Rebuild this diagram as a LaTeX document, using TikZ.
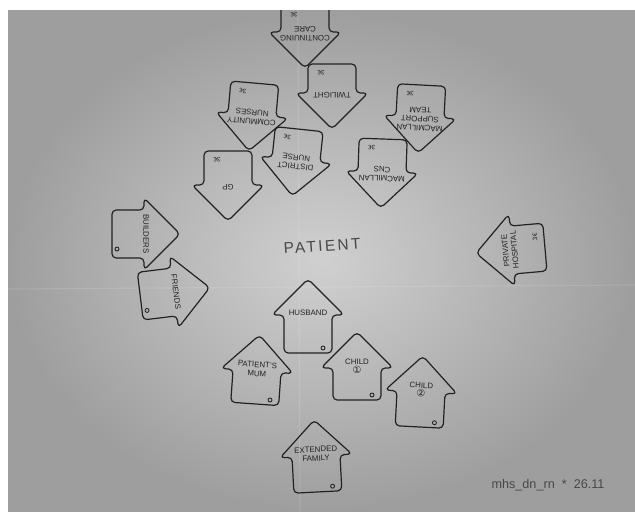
\documentclass[tikz,border=0pt]{standalone}
\usepackage{fontspec}
\setmainfont{Liberation Sans}
\newfontfamily\symfont{DejaVu Sans}
\usepackage{tikz}
\usetikzlibrary{calc}

\definecolor{paperlight}{RGB}{208, 208, 208}
\definecolor{paperdark}{RGB}{158, 158, 158}
\definecolor{pen}{RGB}{34, 34, 34}
\definecolor{pencil}{RGB}{72, 72, 72}

\tikzstyle{cardline} = [draw=pen, line width=0.85pt, rounded corners=3pt, line join=round]
\tikzstyle{cardlabel} = [font=\fontsize{5.6}{6.4}\selectfont, text=pen, align=center, inner sep=0pt, transform shape]
\tikzstyle{cardmark} = [font=\fontsize{4.5}{5}\selectfont, text=pen, inner sep=0pt, transform shape]
\tikzstyle{hole} = [draw=pen, line width=0.6pt]
\tikzstyle{crease} = [white, opacity=0.12, line width=0.8pt]

\newcommand{\cardbody}{34}
\newcommand{\cardoutline}{%
  \draw[cardline] (-24,\cardbody) -- (-24,0) -- (-36,0) -- (0,-36) -- (36,0) -- (24,0) -- (24,\cardbody) -- cycle;}
\tikzset{
  cardbody/.store in=\cardbody,
  pics/holecard/.style={code={
    \cardoutline
    \node[cardlabel] (-label) at (0,-2) {#1};
    \draw[hole] (15,\cardbody-5) circle (2);
  }},
  pics/markcard/.style={code={
    \cardoutline
    \node[cardlabel] (-label) at (0,-2) {#1};
    \node[cardmark] (-mark) at (11,\cardbody-9) {3€};
  }},
}

\begin{document}
\begin{tikzpicture}[x=0.25mm, y=-0.25mm]
  \useasboundingbox (0,0) rectangle (635,511);
  \fill[white] (0,0) rectangle (635,511);
  \shade[inner color=paperlight, outer color=paperdark] (8,10) rectangle (635,511);
  \draw[crease] (298,10) -- (300,511);
  \draw[crease] (8,289) -- (635,285);

  \begin{scope}
    \clip (8,10) rectangle (635,511);
    \pic[cardbody=26, rotate=180] (contcare) at (305,32) {markcard={CONTINUING\\CARE}};
    \pic[cardbody=29, rotate=180] (twilight) at (332,93) {markcard=TWILIGHT};
    \pic[cardbody=32, rotate=175] (community) at (252,115) {markcard={COMMUNITY\\NURSES}};
    \pic[cardbody=31, rotate=174] (district) at (296,160) {markcard={DISTRICT\\NURSE}};
    \pic[cardbody=34, rotate=180] (gp) at (228,185) {markcard=GP};
    \pic[cardbody=32, rotate=177] (support) at (420,117) {markcard={MACMILLAN\\SUPPORT\\TEAM}};
    \pic[cardbody=33, rotate=178] (cns) at (382,172) {markcard={MACMILLAN\\CNS}};
    \pic[cardbody=33, rotate=95] (private) at (512,250) {markcard={PRIVATE\\HOSPITAL}};

    \pic[cardbody=32, rotate=-90] (builders) at (144,234) {holecard=BUILDERS};
    \pic[cardbody=34, rotate=-83] (friends) at (174,292) {holecard=FRIENDS};
    \pic[cardbody=38] (husband) at (308,315) {holecard=HUSBAND};
    \pic[cardbody=33, rotate=-4] (mum) at (257,371) {holecard={PATIENT'S\\MUM}};
    \pic[cardbody=32] (child1) at (357,368) {holecard={CHILD\\{\symfont\fontsize{7}{8}\selectfont ①}}};
    \pic[cardbody=35, rotate=-3] (child2) at (421,392) {holecard={CHILD\\{\symfont\fontsize{7}{8}\selectfont ②}}};
    \pic[cardbody=36, rotate=3] (extended) at (316,456) {holecard={EXTENDED\\FAMILY}};
  \end{scope}

  \node[font=\fontsize{11}{12}\selectfont\addfontfeature{LetterSpace=15}, text=pencil, rotate=4] (patient) at (322,246) {PATIENT};
  \node[font=\fontsize{9}{10}\selectfont, text=pencil] (signature) at (548,485) {mhs\_dn\_rn\ \ *\ \ 26.11};
\end{tikzpicture}
\end{document}
